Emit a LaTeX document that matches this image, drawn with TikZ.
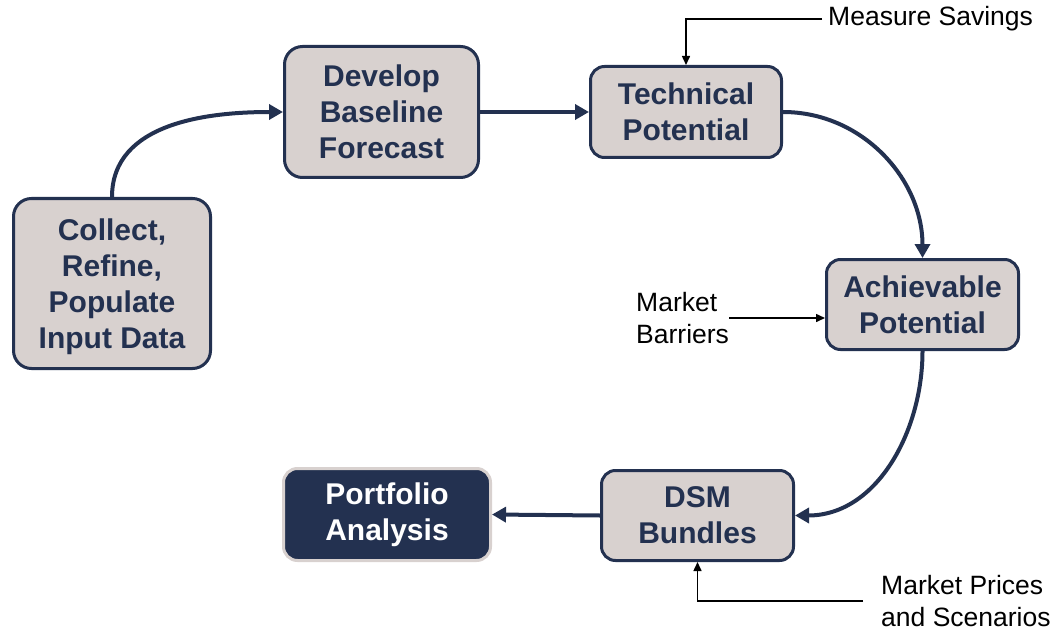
\documentclass[tikz,border=0pt]{standalone}
\usepackage{fontspec}
\setmainfont{Liberation Sans}
\usetikzlibrary{arrows.meta}
\definecolor{navy}{RGB}{35,49,80}
\definecolor{boxfill}{RGB}{216,209,207}
\tikzset{
  stepbox/.style={draw=navy, line width=3pt, fill=boxfill, rounded corners=18pt,
    text=navy, align=center, font=\bfseries\fontsize{30}{36}\selectfont, inner sep=0pt},
  darkbox/.style={draw=boxfill, line width=3pt, fill=navy, rounded corners=14pt,
    text=white, align=center, font=\bfseries\fontsize{30}{36}\selectfont, inner sep=0pt},
  lbl/.style={align=left, font=\fontsize{26.5}{31.5}\selectfont, inner sep=0pt, text=black},
  flow/.style={draw=navy, line width=4pt, -{Triangle[length=14pt,width=15pt]}},
  feed/.style={draw=black, line width=1.5pt, -{Triangle[length=9pt,width=8pt]}}
}
\begin{document}
\begin{tikzpicture}[x=1pt,y=-1pt]
\useasboundingbox (0,0) rectangle (1062,631);
\node[stepbox, minimum width=197pt, minimum height=170pt, text depth=-3pt] (col) at (112,283.5) {Collect,\\Refine,\\Populate\\Input Data};
\node[stepbox, minimum width=194pt, minimum height=131pt] (dev) at (381.5,112) {Develop\\Baseline\\Forecast};
\node[stepbox, minimum width=191pt, minimum height=91pt, rounded corners=14pt] (tec) at (686,112) {Technical\\Potential};
\node[stepbox, minimum width=192pt, minimum height=90pt, rounded corners=14pt] (ach) at (922.5,304.5) {Achievable\\Potential};
\node[stepbox, minimum width=192pt, minimum height=90pt, rounded corners=14pt] (dsm) at (697.5,515.5) {DSM\\Bundles};
\node[darkbox, minimum width=207pt, minimum height=92pt] (por) at (387,514.5) {Portfolio\\Analysis};

\node[lbl, anchor=west, inner xsep=6pt] (ms) at (822,19) {Measure Savings};
\node[lbl, anchor=west] (mb) at (636,318) {Market\\Barriers};
\node[lbl, anchor=west, inner xsep=18pt] (mp) at (863,601) {Market Prices\\and Scenarios};

\draw[flow] (col.north) to[out=90,in=180] (dev.west);
\draw[flow] (dev.east) -- (tec.west);
\draw[flow] (tec.east) to[out=0,in=90] (ach.north);
\draw[flow] (ach.south) to[out=-90,in=0] (dsm.east);
\draw[flow] (dsm.west) -- (por.east);

\draw[feed] (ms.west) -| (tec.north);
\draw[feed] (mb.east) -- (ach.west |- mb.east);
\draw[feed] (mp.west) -| (dsm.south);
\end{tikzpicture}
\end{document}
